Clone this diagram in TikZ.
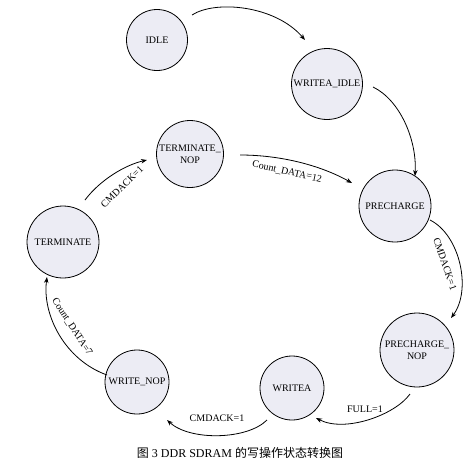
\documentclass[tikz,border=0pt]{standalone}
\usepackage{fontspec}
\setmainfont{Liberation Serif}
\newfontfamily\cjk{Noto Sans CJK SC}
\usetikzlibrary{arrows.meta}
\definecolor{stfill}{RGB}{236,236,244}
\begin{document}
\begin{tikzpicture}[x=1pt,y=-1pt,
  state/.style={circle,draw=black,line width=0.8pt,fill=stfill,inner sep=0pt,
    align=center,font=\fontsize{10}{12.5}\selectfont},
  arr/.style={line width=0.8pt,-{Stealth[length=6pt,width=4.5pt]}},
  lbl/.style={inner sep=0pt,font=\fontsize{10}{12}\selectfont}]
\useasboundingbox (0,0) rectangle (476,469);
\node[state,minimum size=61pt] (IDLE) at (157,40) {IDLE};
\node[state,minimum size=71pt] (WI) at (327,84) {WRITEA\_IDLE};
\node[state,minimum size=72pt] (PRE) at (395,206) {PRECHARGE};
\node[state,minimum size=74pt] (PN) at (417,350) {PRECHARGE\_\\NOP};
\node[state,minimum size=64pt] (WA) at (292,388) {WRITEA};
\node[state,minimum size=64pt] (WN) at (137,382) {WRITE\_NOP};
\node[state,minimum size=72pt] (TERM) at (63,242) {TERMINATE};
\node[state,minimum size=67pt] (TN) at (190,154) {TERMINATE\_\\NOP};

\draw[arr] ([shift={(35,-25)}]IDLE.center) .. controls +(23,-15) and +(-30,-35) .. ([shift={(-22,-44)}]WI.center);
\draw[arr] ([shift={(46,3)}]WI.center) .. controls +(27,13) and +(2,-36) .. ([shift={(20,-30)}]PRE.center);
\draw[arr] ([shift={(35,14)}]PRE.center) .. controls +(30,15) and +(21,-28) .. ([shift={(34,-32)}]PN.center);
\draw[arr] ([shift={(-7,44)}]PN.center) .. controls +(-15,21) and +(29,15) .. ([shift={(24,30)}]WA.center);
\draw[arr] ([shift={(-25,32)}]WA.center) .. controls +(-20,20) and +(23,21) .. ([shift={(30,38)}]WN.center);
\draw[arr] ([shift={(-30,-7)}]WN.center) .. controls +(-42,-15) and +(-5,38) .. ([shift={(-16,35)}]TERM.center);
\draw[arr] ([shift={(22,-42)}]TERM.center) .. controls +(15,-20) and +(-22,5) .. ([shift={(-43,6)}]TN.center);
\draw[arr] ([shift={(50,1)}]TN.center) .. controls +(40,0) and +(-32,-18) .. ([shift={(-43,-23)}]PRE.center);

\node[lbl,rotate=-71] (l1) at (445,264) {CMDACK=1};
\node[lbl] (l2) at (365,409) {FULL=1};
\node[lbl] (l3) at (217,418) {CMDACK=1};
\node[lbl,rotate=-57] (l4) at (72,327) {Count\_DATA=7};
\node[lbl,rotate=44] (l5) at (122,187) {CMDACK=1};
\node[lbl,rotate=-12.6] (l6) at (287,172) {Count\_DATA=12};

\node[inner sep=0pt,font=\fontsize{12}{14}\selectfont] (cap) at (240,453) {{\cjk 图} 3 DDR SDRAM {\cjk 的写操作状态转换图}};
\end{tikzpicture}
\end{document}
